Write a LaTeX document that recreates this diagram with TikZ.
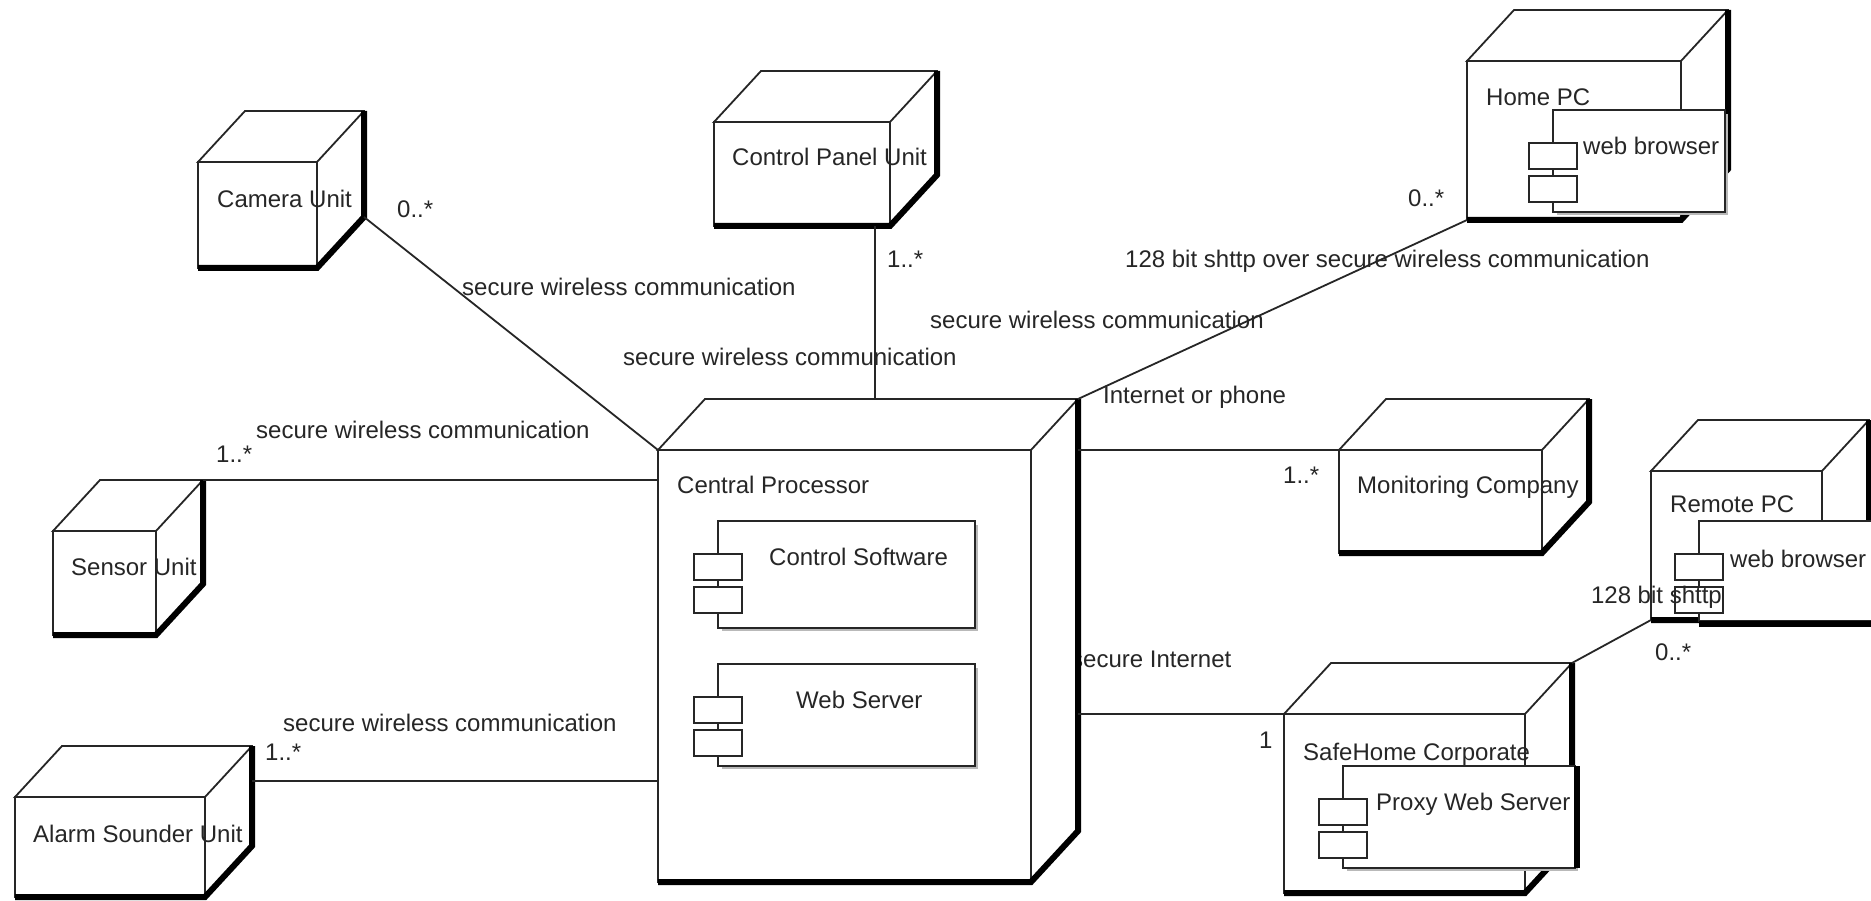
\documentclass[tikz,border=0pt]{standalone}
\usepackage{fontspec}
\setmainfont{Liberation Sans}
\usetikzlibrary{calc}

% A UML deployment node: front face #2,#3 -- #4,#5 (y grows downwards),
% with a top face, a side face and a heavy shadow edge.
\newcommand\unitbox[5]{%
  \node[face, minimum width={(#4-#2)*1pt}, minimum height={(#5-#3)*1pt}]
       (#1) at ({(#2+#4)/2},{(#3+#5)/2}) {};
  \coordinate (#1-btl) at ($(#1.north west)+(47,-51)$);
  \coordinate (#1-btr) at ($(#1.north east)+(47,-51)$);
  \coordinate (#1-bbr) at ($(#1.south east)+(47,-51)$);
  \filldraw[edge, fill=white] (#1.north west) -- (#1-btl) -- (#1-btr)
       -- (#1-bbr) -- (#1.south east) -- (#1.north east) -- cycle;
  \draw[edge] (#1.north east) -- (#1-btr);
  \draw[shadowline] (#1.south west) -- (#1.south east) -- (#1-bbr) -- (#1-btr);
}

% A UML component box with its two small interface tabs.
\newcommand\partbox[5]{%
  \draw[gray!55, line width=1.5pt] (#4+2,#3+4) -- (#4+2,#5+2) -- (#2+4,#5+2);
  \node[part, minimum width={(#4-#2)*1pt}, minimum height={(#5-#3)*1pt}]
       (#1) at ({(#2+#4)/2},{(#3+#5)/2}) {};
  \node[part, minimum width=48pt, minimum height=26pt, anchor=north west]
       (#1-p1) at ($(#1.north west)+(-24,33)$) {};
  \node[part, minimum width=48pt, minimum height=26pt, anchor=north west]
       (#1-p2) at ($(#1.north west)+(-24,66)$) {};
}

\begin{document}
\begin{tikzpicture}[x=1pt, y=-1pt,
  edge/.style={line width=1.8pt, draw=black!85, line join=miter},
  face/.style={draw=black!85, line width=1.8pt, fill=white, rectangle,
               inner sep=0pt, outer sep=0pt},
  part/.style={draw=black!85, line width=1.6pt, fill=white, rectangle,
               inner sep=0pt, outer sep=0pt},
  shadowline/.style={line width=6pt, black, line cap=butt, line join=miter},
  conn/.style={line width=1.8pt, draw=black!85},
  lbl/.style={font=\fontsize{24}{28}\selectfont, inner sep=0pt,
              text=black!85, anchor=base west},
]
\useasboundingbox (0,0) rectangle (1871,901);
\fill[white] (0,0) rectangle (1871,901);

% label partly hidden behind the central processor
\node[lbl] (lsi) at (1071,667) {secure Internet};

% deployment nodes
\unitbox{cam}{198}{162}{317}{268}
\unitbox{panel}{714}{122}{890}{226}
\unitbox{home}{1467}{61}{1681}{220}
\unitbox{sensor}{53}{531}{156}{635}
\unitbox{alarm}{15}{797}{205}{897}
\unitbox{cpu}{658}{450}{1031}{882}
\unitbox{mon}{1339}{450}{1542}{553}
\unitbox{remote}{1651}{471}{1822}{620}
\unitbox{safe}{1284}{714}{1525}{893}

% components
\partbox{ctrl}{718}{521}{975}{628}
\partbox{web}{718}{664}{975}{766}
\partbox{hbrowser}{1553}{110}{1725}{212}
\partbox{rbrowser}{1699}{521}{1885}{621}
\draw[shadowline] ([yshift=-3pt]rbrowser.south west) -- ([yshift=-3pt]rbrowser.south east);
\partbox{proxy}{1343}{766}{1575}{868}
\draw[shadowline] ([xshift=2pt]proxy.north east) -- ([xshift=2pt]proxy.south east);

% communication paths
\draw[conn] (cam-bbr) -- (cpu.north west);
\draw[conn] ([xshift=-15pt]panel.south east) -- ([xshift=-15pt]panel.south east |- cpu-btl);
\draw[conn] (home.south west) -- (cpu-btr);
\draw[conn] (sensor-btr) -- (sensor-btr -| cpu.west);
\draw[conn] ([yshift=-35pt]alarm-btr) -- ([yshift=-35pt]alarm-btr -| cpu.west);
\draw[conn] (mon.north west) -- (mon.north west -| cpu-btr);
\draw[conn] (safe.north west) -- (safe.north west -| cpu-btr);
\draw[conn] (safe-btr) -- (remote.south west);

% node names
\node[lbl] (tcam) at (217,208) {Camera Unit};
\node[lbl] (tpanel) at (732,166) {Control Panel Unit};
\node[lbl] (thome) at (1486,106) {Home PC};
\node[lbl] (tsensor) at (71,575) {Sensor Unit};
\node[lbl] (talarm) at (33,842) {Alarm Sounder Unit};
\node[lbl] (tcpu) at (677,493) {Central Processor};
\node[lbl] (tmon) at (1357,493) {Monitoring Company};
\node[lbl] (tremote) at (1670,512) {Remote PC};
\node[lbl] (tsafe) at (1303,760) {SafeHome Corporate};

% component names
\node[lbl] (tctrl) at (769,565) {Control Software};
\node[lbl] (tweb) at (796,708) {Web Server};
\node[lbl] (thb) at (1583,155) {web browser};
\node[lbl] (trb) at (1730,567) {web browser};
\node[lbl] (tproxy) at (1376,810) {Proxy Web Server};

% path labels and multiplicities
\node[lbl] (m1) at (397,218) {0..*};
\node[lbl] (c1) at (462,295) {secure wireless communication};
\node[lbl] (m2) at (887,268) {1..*};
\node[lbl] (c2) at (623,365) {secure wireless communication};
\node[lbl] (m3) at (1408,207) {0..*};
\node[lbl] (c3) at (1125,268) {128 bit shttp over secure wireless communication};
\node[lbl] (c4) at (930,328) {secure wireless communication};
\node[lbl] (c5) at (1103,403) {Internet or phone};
\node[lbl] (m4) at (216,462) {1..*};
\node[lbl] (c6) at (256,438) {secure wireless communication};
\node[lbl] (m5) at (1283,483) {1..*};
\node[lbl] (m6) at (265,760) {1..*};
\node[lbl] (c7) at (283,731) {secure wireless communication};
\node[lbl] (m7) at (1259,748) {1};
\node[lbl, anchor=base east] (c8) at (1722,603) {128 bit shttp};
\node[lbl] (m8) at (1655,660) {0..*};
\end{tikzpicture}
\end{document}
